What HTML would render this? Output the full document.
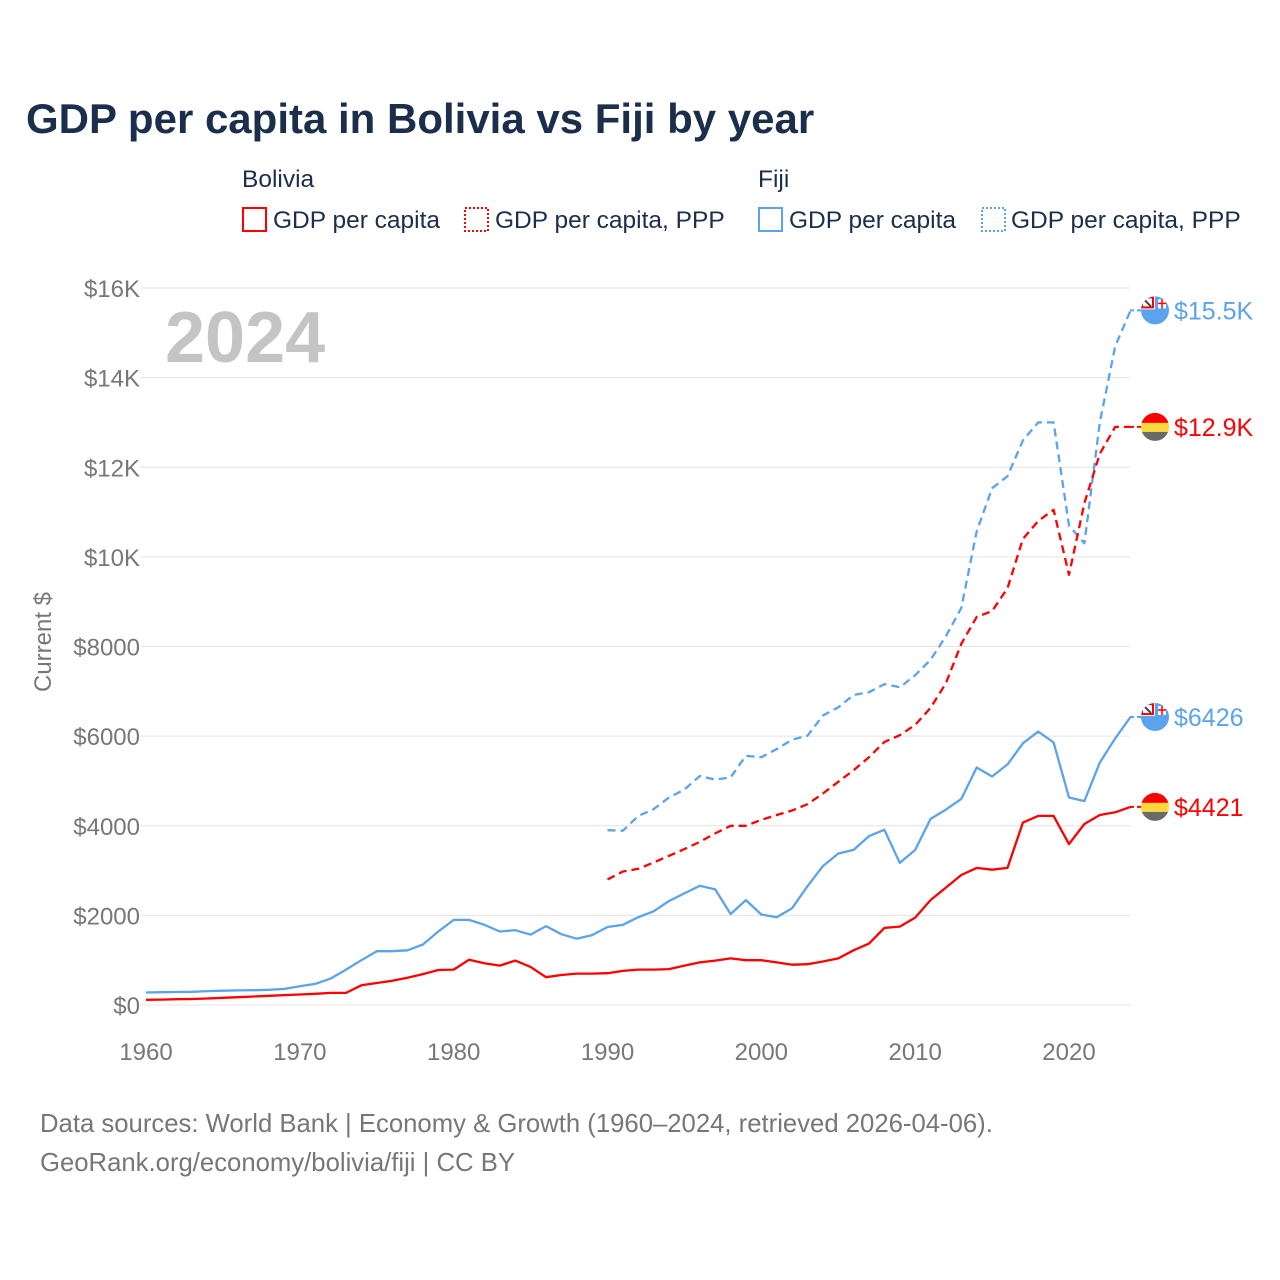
<!DOCTYPE html>
<html><head><meta charset="utf-8">
<style>
body{margin:0;background:#fff;font-family:"Liberation Sans",sans-serif;}
#wrap{position:relative;width:1280px;height:1280px;overflow:hidden;}
svg text{font-family:"Liberation Sans",sans-serif;}
</style></head>
<body>
<div id="wrap">
<svg id="chart" width="1280" height="1280">
<defs id="defs"></defs>
<text x="26" y="133" font-size="42" font-weight="bold" fill="#1b2e4b">GDP per capita in Bolivia vs Fiji by year</text>
<g font-size="24.5" fill="#1b2e4b">
<text x="242" y="187">Bolivia</text>
<text x="758" y="187">Fiji</text>
<g><rect x="243" y="208" width="23" height="23" fill="none" stroke="#f00" stroke-width="2"/><text x="273" y="228">GDP per capita</text></g>
<g><rect x="465" y="208" width="23" height="23" fill="none" stroke="#f00" stroke-width="2" stroke-dasharray="2,2"/><text x="495" y="228">GDP per capita, PPP</text></g>
<g><rect x="759" y="208" width="23" height="23" fill="none" stroke="#5ba3ec" stroke-width="2"/><text x="789" y="228">GDP per capita</text></g>
<g><rect x="982" y="208" width="23" height="23" fill="none" stroke="#5ba3ec" stroke-width="2" stroke-dasharray="2,2"/><text x="1011" y="228">GDP per capita, PPP</text></g>
</g>
<text x="165" y="362" font-size="72" font-weight="bold" fill="#c4c4c4">2024</text>
<text transform="translate(51,642) rotate(-90)" text-anchor="middle" font-size="24" fill="#777">Current $</text>
<g id="grid"></g><g id="series"></g><g id="ends"></g>
<text x="40" y="1132" font-size="25.7" fill="#777">Data sources: World Bank | Economy &amp; Growth (1960–2024, retrieved 2026-04-06).</text>
<text x="40" y="1171" font-size="25.7" fill="#777">GeoRank.org/economy/bolivia/fiji | CC BY</text>
</svg>
</div>
<script>
const yTicks=[0,2000,4000,6000,8000,10000,12000,14000,16000];
const yTickLabels=["$0","$2000","$4000","$6000","$8000","$10K","$12K","$14K","$16K"];
const xTicks=[1960,1970,1980,1990,2000,2010,2020];
const boliviaGdp=[115,120,130,135,145,160,175,190,205,220,235,250,270,270,440,490,540,610,690,780,790,1010,930,880,990,850,620,670,700,700,710,760,790,790,800,880,950,990,1040,1000,1000,950,900,910,970,1040,1220,1370,1720,1750,1950,2340,2620,2900,3060,3020,3060,4070,4220,4220,3590,4040,4240,4300,4421];
const fijiGdp=[280,285,290,295,310,320,325,330,340,360,420,470,590,790,1000,1200,1200,1220,1350,1640,1900,1900,1790,1640,1670,1570,1760,1580,1480,1560,1740,1790,1960,2090,2320,2490,2660,2580,2030,2340,2020,1960,2160,2650,3100,3380,3460,3770,3910,3170,3460,4150,4360,4600,5300,5100,5370,5840,6100,5860,4630,4550,5410,5950,6426];
const boliviaPpp=[2800,2980,3040,3180,3330,3480,3640,3830,4000,4000,4130,4240,4340,4480,4720,4980,5240,5530,5870,6020,6250,6630,7180,8060,8660,8790,9300,10400,10800,11050,9600,11200,12300,12900,12900];
const fijiPpp=[3900,3890,4220,4370,4630,4810,5110,5030,5080,5560,5530,5710,5920,6010,6460,6640,6920,6980,7160,7090,7360,7700,8230,8860,10570,11530,11800,12600,13000,13000,10700,10300,13000,14700,15500];
const endLabels=["$4421","$6426","$12.9K","$15.5K"];
const NS="http://www.w3.org/2000/svg";
const xS=y=>146+(y-1960)*(923/60);
const yS=v=>1005-v*(717/16000);
function mk(tag,attrs,parent){const e=document.createElementNS(NS,tag);for(const k in attrs)e.setAttribute(k,attrs[k]);parent.appendChild(e);return e;}
const grid=document.getElementById('grid');
yTicks.forEach((t,i)=>{
  const l=mk('line',{x1:140,x2:1130,y1:yS(t),y2:yS(t),stroke:'#e4e4e4','stroke-width':1},grid);
  
  
  const tx=mk('text',{x:140,y:yS(t)+9,'text-anchor':'end','font-size':24,fill:'#777'},grid);
  tx.textContent=yTickLabels[i];
  
  
});
xTicks.forEach(t=>{
  const tx=mk('text',{x:xS(t),y:1060,'text-anchor':'middle','font-size':24,fill:'#777'},grid);
  tx.textContent=t;
  
  
});
const ser=document.getElementById('series');
function line(data,start,color,dash,name){
  const pts=data.map((v,i)=>xS(start+i).toFixed(1)+','+yS(v).toFixed(1)).join(' ');
  const p=mk('polyline',{points:pts,fill:'none',stroke:color,'stroke-width':2.3,'stroke-linejoin':'round'},ser);
  if(dash)p.setAttribute('stroke-dasharray','8,5');
  
  
}
line(fijiPpp,1990,'#5ba3ec',true,'fiji-ppp-line');
line(boliviaPpp,1990,'#f00',true,'bolivia-ppp-line');
line(fijiGdp,1960,'#5ba3ec',false,'fiji-gdp-line');
line(boliviaGdp,1960,'#f00',false,'bolivia-gdp-line');
const ends=document.getElementById('ends');
const defs=document.getElementById('defs');
const lastVals=[boliviaGdp[boliviaGdp.length-1],fijiGdp[fijiGdp.length-1],boliviaPpp[boliviaPpp.length-1],fijiPpp[fijiPpp.length-1]];
const colors=['#f00','#5ba3ec','#f00','#5ba3ec'];
const isFiji=[false,true,false,true];
lastVals.forEach((v,i)=>{
  const cy=yS(v);
  const cp=mk('clipPath',{id:'cp'+i},defs);
  mk('circle',{cx:1155,cy:cy,r:14},cp);
  const g=mk('g',{},ends);
  
  
  mk('line',{x1:1130,x2:1141,y1:cy,y2:cy,stroke:colors[i],'stroke-width':2,'stroke-dasharray':'4,3'},g);
  const f=mk('g',{'clip-path':'url(#cp'+i+')'},g);
  if(isFiji[i]){
    mk('rect',{x:1140,y:cy-15,width:30,height:30,fill:'#5ba3ec'},f);
    mk('rect',{x:1140,y:cy-15,width:15,height:14,fill:'#fff'},f);
    mk('rect',{x:1142,y:cy-13,width:11,height:10,fill:'none',stroke:'#f00','stroke-width':2},f);
    mk('line',{x1:1144,y1:cy-11,x2:1151,y2:cy-4,stroke:'#345','stroke-width':2},f);
    mk('rect',{x:1158,y:cy-11,width:8,height:9,fill:'#fff'},f);
    mk('line',{x1:1162,y1:cy-11,x2:1162,y2:cy-2,stroke:'#f00','stroke-width':1.5},f);
    mk('line',{x1:1158,y1:cy-7,x2:1166,y2:cy-7,stroke:'#f00','stroke-width':1.5},f);
  } else {
    mk('rect',{x:1140,y:cy-15,width:30,height:11,fill:'#f00'},f);
    mk('rect',{x:1140,y:cy-4,width:30,height:9,fill:'#fcd83c'},f);
    mk('rect',{x:1140,y:cy+5,width:30,height:10,fill:'#6b6b66'},f);
  }
  const t=mk('text',{x:1174,y:cy+9,'font-size':25,fill:colors[i]},ends);
  t.textContent=endLabels[i];
  
  
});
</script>
</body></html>
